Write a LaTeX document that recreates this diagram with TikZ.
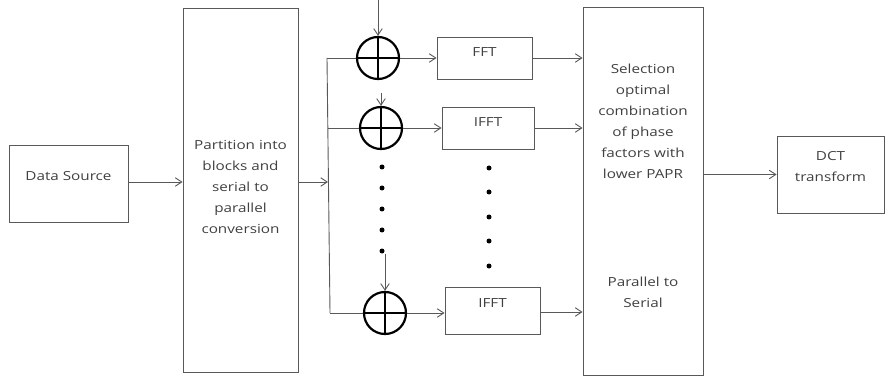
\documentclass[tikz,border=0pt]{standalone}
\usepackage{fontspec}
\setmainfont{Open Sans}
\usetikzlibrary{arrows.meta}
\newcommand\wtxt[1]{\scalebox{1.22}[1]{\begin{tabular}{@{}c@{}}#1\end{tabular}}}
\begin{document}
\begin{tikzpicture}[x=1pt,y=-1pt,
  line/.style={draw=black!65, line width=0.9pt},
  arr/.style={line, -{Straight Barb[length=6.5pt,width=8.5pt]}},
  blk/.style={draw=black!65, line width=0.9pt, inner sep=0pt},
  lbl/.style={text=black!75, font=\fontsize{12.5}{21}\selectfont, align=center, inner sep=0pt},
  sumc/.style={circle, draw=black, line width=2.2pt, minimum size=42pt, inner sep=0pt},
  cross/.style={draw=black, line width=2.2pt},
  dotm/.style={circle, fill=black, minimum size=5pt, inner sep=0pt}]
\useasboundingbox (0,0) rectangle (885,379);
% blocks
\node[blk, minimum width=119pt, minimum height=77pt] (ds) at (68.5,183.5) {};
\node[lbl] (dstxt) at (68.5,176) {\wtxt{Data Source}};
\node[blk, minimum width=115pt, minimum height=364pt] (part) at (240.5,190) {};
\node[lbl] (parttxt) at (240.5,187) {\wtxt{Partition into\\blocks and\\serial to\\parallel\\conversion}};
\node[blk, minimum width=120pt, minimum height=368pt] (sel) at (643,191) {};
\node[lbl] (seltxt) at (643,122) {\wtxt{Selection\\optimal\\combination\\of phase\\factors with\\lower PAPR}};
\node[lbl] (pstxt) at (643,293) {\wtxt{Parallel to\\Serial}};
\node[blk, minimum width=107pt, minimum height=77pt] (dct) at (830.5,174.5) {};
\node[lbl] (dcttxt) at (830.5,166.5) {\wtxt{DCT\\transform}};
\node[blk, minimum width=95pt, minimum height=42pt] (f1) at (484.5,58) {};
\node[lbl] (f1txt) at (484.5,52) {\wtxt{FFT}};
\node[blk, minimum width=92pt, minimum height=42pt] (f2) at (488,128) {};
\node[lbl] (f2txt) at (488,122) {\wtxt{IFFT}};
\node[blk, minimum width=95pt, minimum height=47pt] (f3) at (492.5,310.5) {};
\node[lbl] (f3txt) at (492.5,303) {\wtxt{IFFT}};
% summing circles
\node[sumc] (c1) at (378,58) {};
\node[sumc] (c2) at (381,128) {};
\node[sumc] (c3) at (385,313) {};
\foreach \c in {c1,c2,c3}{
  \draw[cross] (\c.north) -- (\c.south);
  \draw[cross] (\c.west) -- (\c.east);
}
% dots
\foreach \yy [count=\i] in {167,188,209,230,251}{
  \node[dotm] (ld\i) at (382,\yy) {};
}
\foreach \yy [count=\i] in {168,192,217,241,266}{
  \node[dotm] (rd\i) at (489,\yy) {};
}
% bus
\coordinate (btop) at (327,58);
\coordinate (bmid) at (328,182);
\coordinate (b2) at (328,128);
\coordinate (bbot) at (330,313);
\draw[line] (btop) -- (bbot);
\draw[arr] (ds.east |- 0,182) -- (part.west |- 0,182);
\draw[arr] (part.east |- bmid) -- (bmid);
\draw[line] (btop) -- (c1.west);
\draw[line] (b2) -- (c2.west);
\draw[line] (bbot) -- (c3.west);
% input arrows
\coordinate (in1) at (378,0);
\coordinate (in2) at (381,93);
\draw[arr] (in1) -- (c1.north);
\draw[arr] (in2) -- (c2.north);
\draw[arr] (ld5.south -| c3.north) -- (c3.north);
% to transforms
\draw[arr] (c1.east) -- (f1.west);
\draw[arr] (c2.east) -- (f2.west);
\draw[arr] (c3.east) -- (f3.west |- c3.east);
% to selection
\draw[arr] (f1.east) -- (sel.west |- f1.east);
\draw[arr] (f2.east) -- (sel.west |- f2.east);
\draw[arr] (f3.east |- 0,312) -- (sel.west |- 0,312);
% to DCT
\draw[arr] (sel.east |- dct.west) -- (dct.west);
\end{tikzpicture}
\end{document}
